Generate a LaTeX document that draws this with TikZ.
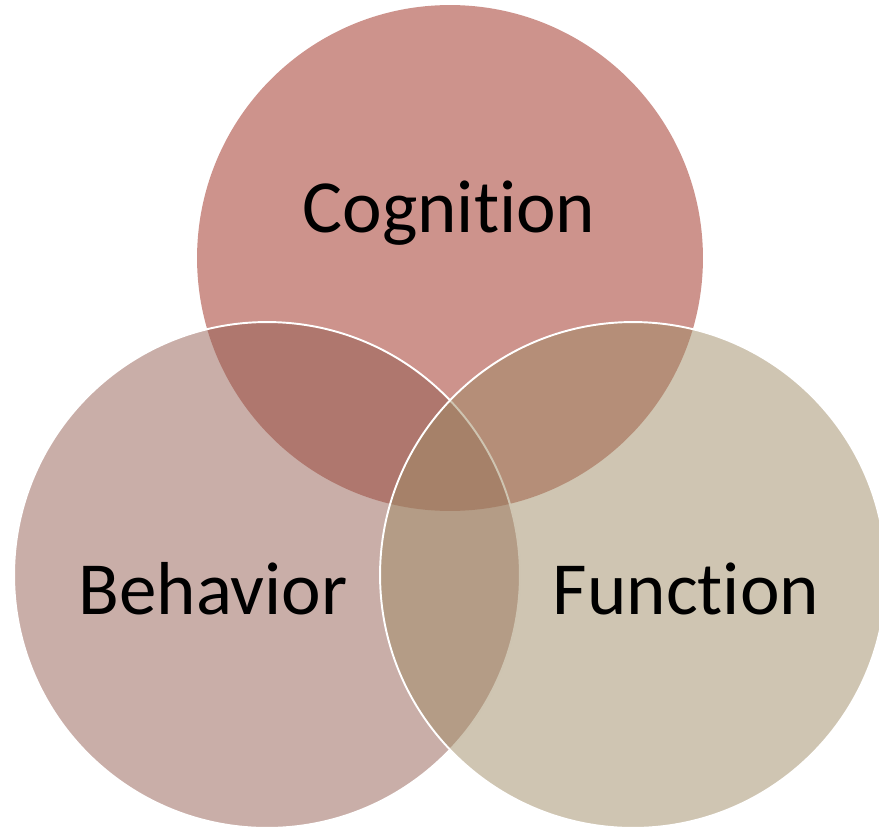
\documentclass[tikz,border=0pt]{standalone}
\usepackage{fontspec}
\setmainfont{Carlito}[RawFeature={-liga,-clig,-dlig,-calt}]
\definecolor{topc}{RGB}{205,147,140}
\definecolor{leftc}{RGB}{147,93,81}
\definecolor{rightc}{RGB}{159,139,101}
\newcommand{\nl}{\kern0pt\relax}
\begin{document}
\begin{tikzpicture}[x=0.02cm,y=-0.02cm,
  venn/.style={circle, minimum size=10.12cm, inner sep=0pt, outer sep=0pt},
  lbl/.style={anchor=base, inner sep=0pt, font=\fontsize{42.7}{50}\selectfont, text=black}]
\useasboundingbox (0,0) rectangle (879,828);
\clip (0,0) rectangle (879,828);
\node[venn, fill=topc] (cog) at (450,258) {};
\node[venn, fill=leftc, fill opacity=0.5, draw=white, line width=1.1pt] (beh) at (267,575) {};
\node[venn, fill=rightc, fill opacity=0.5, draw=white, line width=1.1pt] (fun) at (633,575) {};
\node[lbl] (tcog) at (449,232) {Cognit\nl ion};
\node[lbl] (tbeh) at (213,614) {Behavior};
\node[lbl] (tfun) at (686,614) {Funct\nl ion};
\end{tikzpicture}
\end{document}
